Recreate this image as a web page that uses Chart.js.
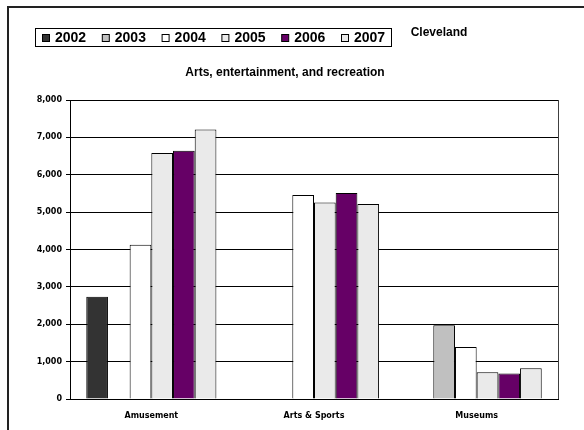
<!DOCTYPE html>
<html>
<head>
<meta charset="utf-8">
<script src="https://cdn.jsdelivr.net/npm/chart.js@4/dist/chart.umd.min.js"></script>
<style>
  html, body { margin: 0; background: #fff; overflow: hidden; }
  canvas { display: block; }
</style>
</head>
<body>
<canvas id="chart" width="584" height="430"></canvas>
<script>
const categories = ['Amusement', 'Arts & Sports', 'Museums'];
const years = ['2002', '2003', '2004', '2005', '2006', '2007'];
const colors = ['#333333', '#c0c0c0', '#ffffff', '#eaeaea', '#660066', '#eaeaea'];

// values, null = no bar
const v2002 = [2735, null, null];
const v2003 = [null, null, 1970];
const v2004 = [4125, 5455, 1390];
const v2005 = [6585, 5260, 715];
const v2006 = [6640, 5515, 680];
const v2007 = [7210, 5220, 820];
const yTicks = [0, 1000, 2000, 3000, 4000, 5000, 6000, 7000, 8000];

const series = [v2002, v2003, v2004, v2005, v2006, v2007];
const FONT = '"Liberation Sans", Arial, sans-serif';
const TICK_FONT = '"DejaVu Sans", sans-serif';

// outer frame, legend box, titles and plot border
const extras = {
    id: 'extras',
    beforeDraw(chart) {
        const ctx = chart.ctx;
        ctx.save();
        ctx.fillStyle = '#fff';
        ctx.fillRect(0, 0, chart.width, chart.height);
        ctx.strokeStyle = '#222';
        ctx.lineWidth = 2;
        ctx.beginPath();
        ctx.moveTo(8, chart.height);
        ctx.lineTo(8, 7);
        ctx.lineTo(chart.width, 7);
        ctx.stroke();
        ctx.restore();
    },
    afterDraw(chart) {
        const ctx = chart.ctx;
        const area = chart.chartArea;
        ctx.save();

        // right edge of the plot area
        ctx.strokeStyle = '#404040';
        ctx.lineWidth = 1;
        ctx.beginPath();
        ctx.moveTo(Math.round(area.right) + 0.5, area.top);
        ctx.lineTo(Math.round(area.right) + 0.5, area.bottom);
        ctx.stroke();

        // legend
        ctx.strokeStyle = '#000';
        ctx.strokeRect(35.5, 28.5, 356, 18);
        ctx.font = 'bold 14px ' + FONT;
        ctx.textBaseline = 'middle';
        ctx.textAlign = 'left';
        chart.data.datasets.forEach((ds, i) => {
            const x = 42 + i * 59.8;
            ctx.fillStyle = ds.backgroundColor;
            ctx.fillRect(x + 0.5, 34.5, 7, 7);
            ctx.strokeRect(x + 0.5, 34.5, 7, 7);
            ctx.fillStyle = '#000';
            ctx.fillText(ds.label, x + 13, 38.5);
        });

        ctx.font = 'bold 12px ' + FONT;
        ctx.textAlign = 'center';
        ctx.fillText('Cleveland', 439, 33);
        ctx.fillText('Arts, entertainment, and recreation', 285, 73);
        ctx.restore();
    }
};

new Chart(document.getElementById('chart'), {
    type: 'bar',
    data: {
        labels: categories,
        datasets: years.map((y, i) => ({
            label: y,
            data: series[i],
            backgroundColor: colors[i],
            borderColor: '#000',
            borderWidth: 1,
            barPercentage: 1,
            categoryPercentage: 0.8
        }))
    },
    options: {
        responsive: false,
        animation: false,
        layout: { padding: { top: 100, right: 26, bottom: 0, left: 0 } },
        plugins: {
            legend: { display: false },
            tooltip: { enabled: false }
        },
        scales: {
            x: {
                grid: { display: false, drawTicks: false },
                border: { display: true, color: '#000', width: 1 },
                ticks: { color: '#000', padding: 12, font: { family: TICK_FONT, size: 8, weight: 'bold' } },
                afterFit(scale) { scale.height = 31; }
            },
            y: {
                min: 0,
                max: 8000,
                afterBuildTicks(scale) { scale.ticks = yTicks.map(v => ({ value: v })); },
                grid: { color: '#000', lineWidth: 1, drawTicks: true, tickLength: 4, tickColor: '#000' },
                border: { display: true, color: '#000', width: 1 },
                ticks: {
                    color: '#000',
                    padding: 4,
                    font: { family: TICK_FONT, size: 8, weight: 'bold' },
                    callback: v => v.toLocaleString('en-US')
                },
                afterFit(scale) { scale.width = 70; }
            }
        }
    },
    plugins: [extras]
});
</script>
</body>
</html>
